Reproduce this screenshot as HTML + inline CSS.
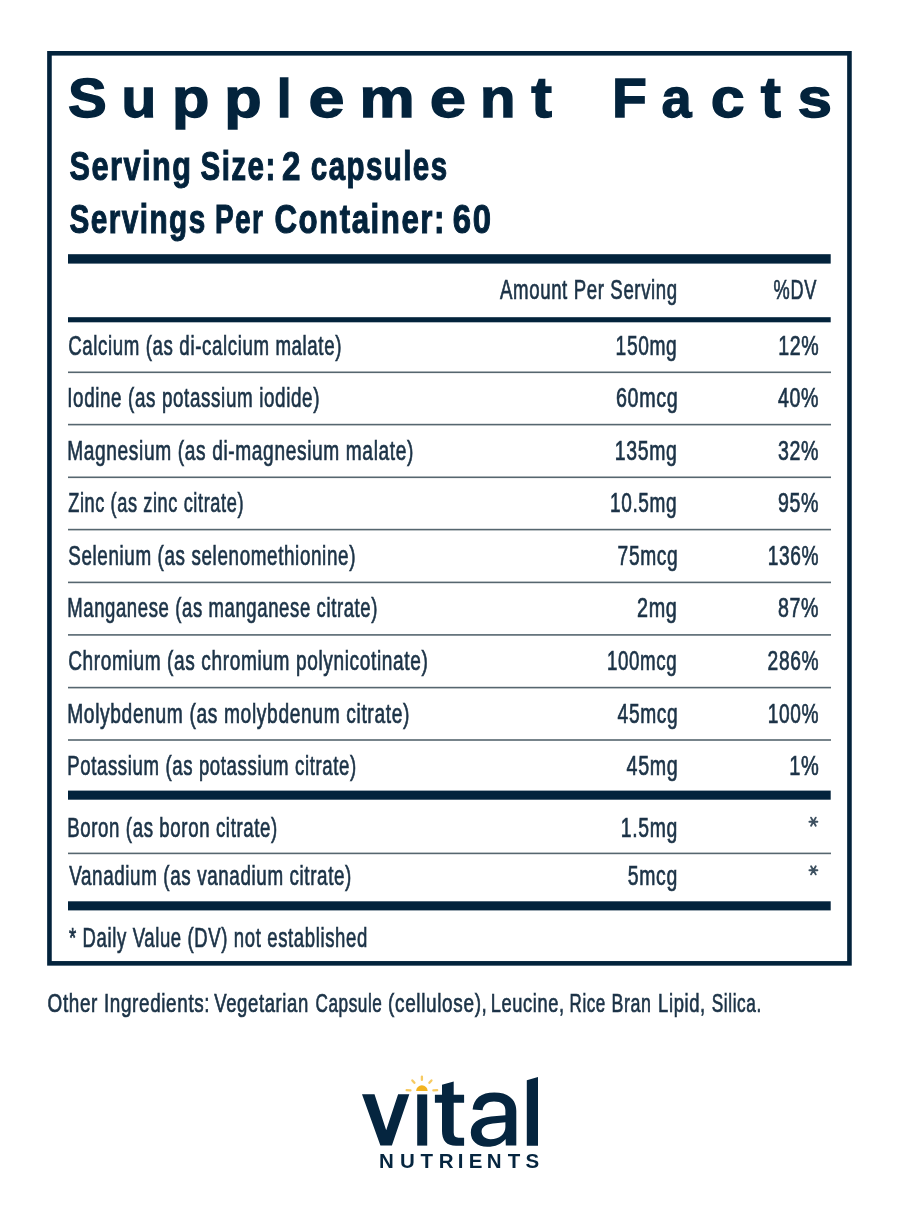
<!DOCTYPE html>
<html><head><meta charset="utf-8"><title>Supplement Facts</title>
<style>
html,body{margin:0;padding:0;background:#fff;}
body{width:900px;height:1220px;overflow:hidden;position:relative;}
svg{position:absolute;left:0;top:0;display:block;will-change:transform;}
text{font-family:"Liberation Sans",sans-serif;}
</style></head><body>
<svg width="900" height="1220" viewBox="0 0 900 1220">
<rect x="0" y="0" width="900" height="1220" fill="#fff"/>

<rect x="49.45" y="53.3" width="800.0" height="910.05" fill="none" stroke="#03233c" stroke-width="4.6"/>
<rect x="68" y="254.2" width="762.7" height="9.4" fill="#03233c"/>
<rect x="68" y="317.2" width="762.7" height="5.1" fill="#03233c"/>
<rect x="68" y="790.6" width="762.7" height="9.1" fill="#03233c"/>
<rect x="68" y="901.3" width="762.7" height="9.1" fill="#03233c"/>
<rect x="68" y="371.50" width="763" height="1.6" fill="#56666f"/>
<rect x="68" y="423.80" width="763" height="1.6" fill="#56666f"/>
<rect x="68" y="476.50" width="763" height="1.6" fill="#56666f"/>
<rect x="68" y="528.80" width="763" height="1.6" fill="#56666f"/>
<rect x="68" y="581.60" width="763" height="1.6" fill="#56666f"/>
<rect x="68" y="634.10" width="763" height="1.6" fill="#56666f"/>
<rect x="68" y="686.80" width="763" height="1.6" fill="#56666f"/>
<rect x="68" y="739.20" width="763" height="1.6" fill="#56666f"/>
<rect x="68" y="852.60" width="763" height="1.6" fill="#56666f"/>
<g fill="#03233c" stroke="#03233c" stroke-width="1.4" font-weight="bold" font-size="57">
<text transform="translate(68.00,116.8) scale(1.02,0.978)" x="0" y="0">S</text>
<text transform="translate(121.51,116.8) scale(0.9967,0.97)" x="0" y="0">u</text>
<text transform="translate(172.11,116.8) scale(1.0737,0.97)" x="0" y="0">p</text>
<text transform="translate(224.37,116.8) scale(1.0738,0.97)" x="0" y="0">p</text>
<text transform="translate(276.77,116.8) scale(0.9369,0.95)" x="0" y="0">l</text>
<text transform="translate(308.46,116.8) scale(1.1357,0.97)" x="0" y="0">e</text>
<text transform="translate(359.40,116.8) scale(1.0891,0.97)" x="0" y="0">m</text>
<text transform="translate(429.72,116.8) scale(1.143,0.97)" x="0" y="0">e</text>
<text transform="translate(480.09,116.8) scale(1.0197,0.97)" x="0" y="0">n</text>
<text transform="translate(531.31,116.8) scale(1.0914,1.0)" x="0" y="0">t</text>
<text transform="translate(612.09,116.8) scale(1.0018,0.978)" x="0" y="0">F</text>
<text transform="translate(661.57,116.8) scale(0.947,0.97)" x="0" y="0">a</text>
<text transform="translate(710.83,116.8) scale(1.0669,0.97)" x="0" y="0">c</text>
<text transform="translate(760.81,116.8) scale(1.062,1.0)" x="0" y="0">t</text>
<text transform="translate(797.49,116.8) scale(1.0874,0.97)" x="0" y="0">s</text>
</g>
<text x="452.80" y="233.4" font-size="41.2" font-weight="bold" fill="#03233c" stroke="#03233c" stroke-width="1.1" letter-spacing="2.0" text-anchor="start" textLength="39.73" lengthAdjust="spacingAndGlyphs">60</text>
<text x="274.40" y="233.4" font-size="41.2" font-weight="bold" fill="#03233c" stroke="#03233c" stroke-width="1.1" letter-spacing="2.0" text-anchor="start" textLength="171.51" lengthAdjust="spacingAndGlyphs">Container:</text>
<text x="215.00" y="233.4" font-size="41.2" font-weight="bold" fill="#03233c" stroke="#03233c" stroke-width="1.1" letter-spacing="2.0" text-anchor="start" textLength="49.36" lengthAdjust="spacingAndGlyphs">Per</text>
<text x="69.60" y="233.4" font-size="41.2" font-weight="bold" fill="#03233c" stroke="#03233c" stroke-width="1.1" letter-spacing="2.0" text-anchor="start" textLength="137.05" lengthAdjust="spacingAndGlyphs">Servings</text>
<text x="310.80" y="179.6" font-size="41.2" font-weight="bold" fill="#03233c" stroke="#03233c" stroke-width="1.1" letter-spacing="2.0" text-anchor="start" textLength="137.66" lengthAdjust="spacingAndGlyphs">capsules</text>
<text x="282.00" y="179.6" font-size="41.2" font-weight="bold" fill="#03233c" stroke="#03233c" stroke-width="1.1" letter-spacing="2.0" text-anchor="start" textLength="20.05" lengthAdjust="spacingAndGlyphs">2</text>
<text x="200.60" y="179.6" font-size="41.2" font-weight="bold" fill="#03233c" stroke="#03233c" stroke-width="1.1" letter-spacing="2.0" text-anchor="start" textLength="76.08" lengthAdjust="spacingAndGlyphs">Size:</text>
<text x="69.60" y="179.6" font-size="41.2" font-weight="bold" fill="#03233c" stroke="#03233c" stroke-width="1.1" letter-spacing="2.0" text-anchor="start" textLength="122.88" lengthAdjust="spacingAndGlyphs">Serving</text>
<text x="500.00" y="298.9" font-size="26.8" font-weight="normal" fill="#1c3347" stroke="#1c3347" stroke-width="0.7" letter-spacing="0.9" text-anchor="start" textLength="177.83" lengthAdjust="spacingAndGlyphs">Amount Per Serving</text>
<text x="773.60" y="299.2" font-size="26.8" font-weight="normal" fill="#1c3347" stroke="#1c3347" stroke-width="0.7" letter-spacing="0.9" text-anchor="start" textLength="43.34" lengthAdjust="spacingAndGlyphs">%DV</text>
<text x="68.20" y="354.7" font-size="27" font-weight="normal" fill="#1c3347" stroke="#1c3347" stroke-width="0.7" letter-spacing="0.9" text-anchor="start" textLength="273.82" lengthAdjust="spacingAndGlyphs">Calcium (as di-calcium malate)</text>
<text x="615.60" y="354.7" font-size="27" font-weight="normal" fill="#1c3347" stroke="#1c3347" stroke-width="0.7" letter-spacing="0.9" text-anchor="start" textLength="61.81" lengthAdjust="spacingAndGlyphs">150mg</text>
<text x="778.20" y="354.7" font-size="27" font-weight="normal" fill="#1c3347" stroke="#1c3347" stroke-width="0.7" letter-spacing="0.9" text-anchor="start" textLength="41.15" lengthAdjust="spacingAndGlyphs">12%</text>
<text x="67.20" y="407.25" font-size="27" font-weight="normal" fill="#1c3347" stroke="#1c3347" stroke-width="0.7" letter-spacing="0.9" text-anchor="start" textLength="252.84" lengthAdjust="spacingAndGlyphs">Iodine (as potassium iodide)</text>
<text x="616.00" y="407.25" font-size="27" font-weight="normal" fill="#1c3347" stroke="#1c3347" stroke-width="0.7" letter-spacing="0.9" text-anchor="start" textLength="62.36" lengthAdjust="spacingAndGlyphs">60mcg</text>
<text x="778.00" y="407.25" font-size="27" font-weight="normal" fill="#1c3347" stroke="#1c3347" stroke-width="0.7" letter-spacing="0.9" text-anchor="start" textLength="41.16" lengthAdjust="spacingAndGlyphs">40%</text>
<text x="67.20" y="459.8" font-size="27" font-weight="normal" fill="#1c3347" stroke="#1c3347" stroke-width="0.7" letter-spacing="0.9" text-anchor="start" textLength="346.83" lengthAdjust="spacingAndGlyphs">Magnesium (as di-magnesium malate)</text>
<text x="614.80" y="459.8" font-size="27" font-weight="normal" fill="#1c3347" stroke="#1c3347" stroke-width="0.7" letter-spacing="0.9" text-anchor="start" textLength="62.62" lengthAdjust="spacingAndGlyphs">135mg</text>
<text x="778.00" y="459.8" font-size="27" font-weight="normal" fill="#1c3347" stroke="#1c3347" stroke-width="0.7" letter-spacing="0.9" text-anchor="start" textLength="41.16" lengthAdjust="spacingAndGlyphs">32%</text>
<text x="68.20" y="512.35" font-size="27" font-weight="normal" fill="#1c3347" stroke="#1c3347" stroke-width="0.7" letter-spacing="0.9" text-anchor="start" textLength="175.85" lengthAdjust="spacingAndGlyphs">Zinc (as zinc citrate)</text>
<text x="610.00" y="512.35" font-size="27" font-weight="normal" fill="#1c3347" stroke="#1c3347" stroke-width="0.7" letter-spacing="0.9" text-anchor="start" textLength="67.32" lengthAdjust="spacingAndGlyphs">10.5mg</text>
<text x="778.00" y="512.35" font-size="27" font-weight="normal" fill="#1c3347" stroke="#1c3347" stroke-width="0.7" letter-spacing="0.9" text-anchor="start" textLength="41.16" lengthAdjust="spacingAndGlyphs">95%</text>
<text x="68.20" y="564.9" font-size="27" font-weight="normal" fill="#1c3347" stroke="#1c3347" stroke-width="0.7" letter-spacing="0.9" text-anchor="start" textLength="287.84" lengthAdjust="spacingAndGlyphs">Selenium (as selenomethionine)</text>
<text x="617.60" y="564.9" font-size="27" font-weight="normal" fill="#1c3347" stroke="#1c3347" stroke-width="0.7" letter-spacing="0.9" text-anchor="start" textLength="60.74" lengthAdjust="spacingAndGlyphs">75mcg</text>
<text x="767.80" y="564.9" font-size="27" font-weight="normal" fill="#1c3347" stroke="#1c3347" stroke-width="0.7" letter-spacing="0.9" text-anchor="start" textLength="51.43" lengthAdjust="spacingAndGlyphs">136%</text>
<text x="67.20" y="617.45" font-size="27" font-weight="normal" fill="#1c3347" stroke="#1c3347" stroke-width="0.7" letter-spacing="0.9" text-anchor="start" textLength="310.85" lengthAdjust="spacingAndGlyphs">Manganese (as manganese citrate)</text>
<text x="637.00" y="617.45" font-size="27" font-weight="normal" fill="#1c3347" stroke="#1c3347" stroke-width="0.7" letter-spacing="0.9" text-anchor="start" textLength="40.48" lengthAdjust="spacingAndGlyphs">2mg</text>
<text x="778.00" y="617.45" font-size="27" font-weight="normal" fill="#1c3347" stroke="#1c3347" stroke-width="0.7" letter-spacing="0.9" text-anchor="start" textLength="41.16" lengthAdjust="spacingAndGlyphs">87%</text>
<text x="68.20" y="670.0" font-size="27" font-weight="normal" fill="#1c3347" stroke="#1c3347" stroke-width="0.7" letter-spacing="0.9" text-anchor="start" textLength="360.23" lengthAdjust="spacingAndGlyphs">Chromium (as chromium polynicotinate)</text>
<text x="607.00" y="670.0" font-size="27" font-weight="normal" fill="#1c3347" stroke="#1c3347" stroke-width="0.7" letter-spacing="0.9" text-anchor="start" textLength="70.32" lengthAdjust="spacingAndGlyphs">100mcg</text>
<text x="767.60" y="670.0" font-size="27" font-weight="normal" fill="#1c3347" stroke="#1c3347" stroke-width="0.7" letter-spacing="0.9" text-anchor="start" textLength="51.55" lengthAdjust="spacingAndGlyphs">286%</text>
<text x="67.20" y="722.55" font-size="27" font-weight="normal" fill="#1c3347" stroke="#1c3347" stroke-width="0.7" letter-spacing="0.9" text-anchor="start" textLength="342.83" lengthAdjust="spacingAndGlyphs">Molybdenum (as molybdenum citrate)</text>
<text x="617.60" y="722.55" font-size="27" font-weight="normal" fill="#1c3347" stroke="#1c3347" stroke-width="0.7" letter-spacing="0.9" text-anchor="start" textLength="60.72" lengthAdjust="spacingAndGlyphs">45mcg</text>
<text x="767.80" y="722.55" font-size="27" font-weight="normal" fill="#1c3347" stroke="#1c3347" stroke-width="0.7" letter-spacing="0.9" text-anchor="start" textLength="51.43" lengthAdjust="spacingAndGlyphs">100%</text>
<text x="67.20" y="775.1" font-size="27" font-weight="normal" fill="#1c3347" stroke="#1c3347" stroke-width="0.7" letter-spacing="0.9" text-anchor="start" textLength="289.64" lengthAdjust="spacingAndGlyphs">Potassium (as potassium citrate)</text>
<text x="626.60" y="775.1" font-size="27" font-weight="normal" fill="#1c3347" stroke="#1c3347" stroke-width="0.7" letter-spacing="0.9" text-anchor="start" textLength="51.75" lengthAdjust="spacingAndGlyphs">45mg</text>
<text x="789.20" y="775.1" font-size="27" font-weight="normal" fill="#1c3347" stroke="#1c3347" stroke-width="0.7" letter-spacing="0.9" text-anchor="start" textLength="30.22" lengthAdjust="spacingAndGlyphs">1%</text>
<text x="67.20" y="836.5" font-size="27" font-weight="normal" fill="#1c3347" stroke="#1c3347" stroke-width="0.7" letter-spacing="0.9" text-anchor="start" textLength="210.66" lengthAdjust="spacingAndGlyphs">Boron (as boron citrate)</text>
<text x="620.80" y="836.5" font-size="27" font-weight="normal" fill="#1c3347" stroke="#1c3347" stroke-width="0.7" letter-spacing="0.9" text-anchor="start" textLength="57.03" lengthAdjust="spacingAndGlyphs">1.5mg</text>
<text x="69.20" y="884.5" font-size="27" font-weight="normal" fill="#1c3347" stroke="#1c3347" stroke-width="0.7" letter-spacing="0.9" text-anchor="start" textLength="282.82" lengthAdjust="spacingAndGlyphs">Vanadium (as vanadium citrate)</text>
<text x="627.80" y="884.5" font-size="27" font-weight="normal" fill="#1c3347" stroke="#1c3347" stroke-width="0.7" letter-spacing="0.9" text-anchor="start" textLength="50.02" lengthAdjust="spacingAndGlyphs">5mcg</text>
<text x="69.00" y="947.3" font-size="27" font-weight="normal" fill="#1c3347" stroke="#1c3347" stroke-width="0.7" letter-spacing="0.9" text-anchor="start" textLength="298.82" lengthAdjust="spacingAndGlyphs">* Daily Value (DV) not established</text>
<text x="47.60" y="1012.1" font-size="26.6" font-weight="normal" fill="#1c3347" stroke="#1c3347" stroke-width="0.7" letter-spacing="0.9" text-anchor="start" textLength="162.67" lengthAdjust="spacingAndGlyphs">Other Ingredients:</text>
<text x="214.20" y="1012.1" font-size="26.6" font-weight="normal" fill="#1c3347" stroke="#1c3347" stroke-width="0.7" letter-spacing="0.9" text-anchor="start" textLength="94.75" lengthAdjust="spacingAndGlyphs">Vegetarian</text>
<text x="315.40" y="1012.1" font-size="26.6" font-weight="normal" fill="#1c3347" stroke="#1c3347" stroke-width="0.7" letter-spacing="0.9" text-anchor="start" textLength="67.09" lengthAdjust="spacingAndGlyphs">Capsule</text>
<text x="388.10" y="1012.1" font-size="26.6" font-weight="normal" fill="#1c3347" stroke="#1c3347" stroke-width="0.7" letter-spacing="0.9" text-anchor="start" textLength="99.41" lengthAdjust="spacingAndGlyphs">(cellulose),</text>
<text x="490.80" y="1012.1" font-size="26.6" font-weight="normal" fill="#1c3347" stroke="#1c3347" stroke-width="0.7" letter-spacing="0.9" text-anchor="start" textLength="73.99" lengthAdjust="spacingAndGlyphs">Leucine,</text>
<text x="569.60" y="1012.1" font-size="26.6" font-weight="normal" fill="#1c3347" stroke="#1c3347" stroke-width="0.7" letter-spacing="0.9" text-anchor="start" textLength="36.22" lengthAdjust="spacingAndGlyphs">Rice</text>
<text x="611.50" y="1012.1" font-size="26.6" font-weight="normal" fill="#1c3347" stroke="#1c3347" stroke-width="0.7" letter-spacing="0.9" text-anchor="start" textLength="40.03" lengthAdjust="spacingAndGlyphs">Bran</text>
<text x="658.10" y="1012.1" font-size="26.6" font-weight="normal" fill="#1c3347" stroke="#1c3347" stroke-width="0.7" letter-spacing="0.9" text-anchor="start" textLength="47.77" lengthAdjust="spacingAndGlyphs">Lipid,</text>
<text x="711.80" y="1012.1" font-size="26.6" font-weight="normal" fill="#1c3347" stroke="#1c3347" stroke-width="0.7" letter-spacing="0.9" text-anchor="start" textLength="49.98" lengthAdjust="spacingAndGlyphs">Silica.</text>
<path d="M809.40,821.70L817.39,821.70M811.05,817.63L815.75,825.77M815.75,817.63L811.05,825.77" stroke="#3d5060" stroke-width="1.9" stroke-linecap="round"/>
<path d="M809.40,870.30L817.39,870.30M811.05,866.23L815.75,874.37M815.75,866.23L811.05,874.37" stroke="#3d5060" stroke-width="1.9" stroke-linecap="round"/>
<g fill="#05253f">
<path d="M362,1094.2 L374.5,1094.2 L386.2,1130.3 L398.1,1094.2 L409.3,1094.2 L391.9,1145.6 L380.4,1145.6 Z"/>
<rect x="417.2" y="1094.4" width="10.0" height="51.2"/>
<path d="M442,1084.8 L453.7,1081.5 L453.7,1094.7 L464.1,1094.7 L464.1,1102.7 L453.7,1102.7 L453.7,1132.5 Q453.7,1137.7 458.5,1137.7 L464.1,1137.7 L464.1,1145.7 L456,1145.7 Q442,1145.7 442,1131 L442,1102.7 L434.9,1102.7 L434.9,1094.7 L442,1094.7 Z"/>
<path d="M526.8,1080.3 L538,1077 L538,1145.75 L526.8,1145.75 Z"/>
<path fill-rule="evenodd" d="M516.3,1145.6 L516.3,1111 C516.3,1099 508,1092.6 494.3,1092.6 C481,1092.6 473.8,1098.5 472.6,1109.6 L482.6,1110.2 C483.4,1104.6 487.2,1101.6 494,1101.6 C501.3,1101.6 505.4,1104.6 505.4,1110.6 L505.4,1115.2 L491,1116.6 C478,1118 470.8,1123.5 470.8,1132.6 C470.8,1141.3 477.4,1146.8 487.2,1146.8 C495.4,1146.8 501.5,1144 505.6,1139 L505.8,1145.6 Z M505.4,1122.2 L493,1123.6 C485.2,1124.6 481.6,1127.4 481.6,1131.6 C481.6,1136 485,1139.2 490.6,1139.2 C499.5,1139.2 505.4,1134 505.4,1127 Z"/>
<text x="378.93" y="1168.4" font-size="20.5" font-weight="bold">N</text>
<text x="399.97" y="1168.4" font-size="20.5" font-weight="bold">U</text>
<text x="420.57" y="1168.4" font-size="20.5" font-weight="bold">T</text>
<text x="438.63" y="1168.4" font-size="20.5" font-weight="bold">R</text>
<text x="457.63" y="1168.4" font-size="20.5" font-weight="bold">I</text>
<text x="468.63" y="1168.4" font-size="20.5" font-weight="bold">E</text>
<text x="486.63" y="1168.4" font-size="20.5" font-weight="bold">N</text>
<text x="507.77" y="1168.4" font-size="20.5" font-weight="bold">T</text>
<text x="525.41" y="1168.4" font-size="20.5" font-weight="bold">S</text>
</g>
<path d="M416.15,1091.1 A5.75,5.75 0 0 1 427.65,1091.1 Z" fill="#f2b31f"/>
<path d="M410.43,1090.30L406.64,1090.03M414.41,1082.78L412.33,1080.47M421.90,1079.90L421.90,1076.60M429.39,1082.78L431.47,1080.47M433.37,1090.30L437.16,1090.03" stroke="#f2b31f" stroke-width="2.3" stroke-linecap="round" fill="none" opacity="0.7"/>
</svg>
</body></html>
